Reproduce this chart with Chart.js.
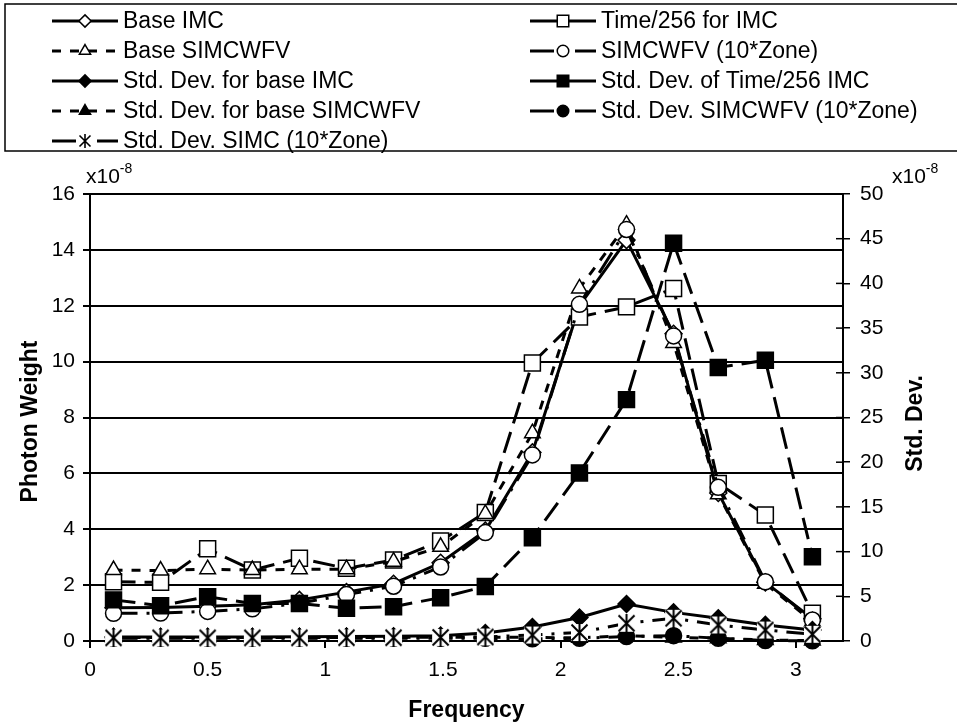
<!DOCTYPE html>
<html>
<head>
<meta charset="utf-8">
<script src="https://cdn.jsdelivr.net/npm/chart.js@4"></script>
<style>
  body { margin: 0; background: #fff; }
  #wrap { width: 957px; height: 726px; }
</style>
</head>
<body>
<div id="wrap"><canvas id="photonChart"></canvas></div>
<script>
// ===== data (photon weight in x10^-8, std. dev. in x10^-8) =====
const frequency = [0.1, 0.3, 0.5, 0.69, 0.89, 1.09, 1.29, 1.49, 1.68, 1.88, 2.08, 2.28, 2.48, 2.67, 2.87, 3.07];

const baseIMC       = [1.19, 1.2, 1.24, 1.3, 1.47, 1.75, 2.05, 2.8, 3.95, 6.75, 12.0, 14.35, 11.0, 5.3, 2.1, 0.8];
const time256IMC    = [2.12, 2.1, 3.3, 2.54, 2.96, 2.6, 2.9, 3.58, 4.6, 9.95, 11.6, 11.96, 12.62, 5.64, 4.51, 0.99];
const baseSIMCWFV   = [2.54, 2.52, 2.57, 2.54, 2.57, 2.57, 2.84, 3.37, 4.55, 7.44, 12.62, 14.9, 10.67, 5.25, 2.05, 0.7];
const simcwfvZone   = [0.99, 1.0, 1.06, 1.15, 1.35, 1.66, 1.96, 2.65, 3.88, 6.66, 12.05, 14.73, 10.92, 5.5, 2.12, 0.75];

const sdBaseIMC     = [0.45, 0.45, 0.45, 0.45, 0.47, 0.5, 0.52, 0.6, 0.9, 1.57, 2.63, 4.14, 3.2, 2.55, 1.8, 1.23];
const sdTime256IMC  = [4.6, 3.95, 4.96, 4.2, 4.2, 3.66, 3.84, 4.85, 6.1, 11.55, 18.8, 27.0, 44.5, 30.6, 31.4, 9.43];
const sdBaseSIMCWFV = [0.4, 0.4, 0.4, 0.4, 0.4, 0.4, 0.4, 0.42, 0.42, 0.4, 0.35, 0.6, 0.4, 0.3, 0.1, 0.05];
const sdSIMCWFVZone = [0.3, 0.3, 0.3, 0.3, 0.3, 0.3, 0.3, 0.3, 0.3, 0.25, 0.3, 0.5, 0.6, 0.3, 0.05, 0.03];
const sdSIMCZone    = [0.35, 0.35, 0.35, 0.35, 0.35, 0.37, 0.37, 0.4, 0.45, 0.67, 0.95, 1.98, 2.54, 1.79, 1.23, 0.75];

const xTicks = [0, 0.5, 1, 1.5, 2, 2.5, 3];
const leftTicks = [0, 2, 4, 6, 8, 10, 12, 14, 16];
const rightTicks = [0, 5, 10, 15, 20, 25, 30, 35, 40, 45, 50];

const FONT = 'Arial, "Liberation Sans", sans-serif';
const LONG_DASH = [22, 9];
const SHORT_DASH = [9, 9];
const DASH_DOT = [24, 9, 3, 9];

// star marker (x with vertical bar, white box behind)
function starMarker(size, lw) {
  const c = document.createElement('canvas');
  c.width = size; c.height = size;
  const g = c.getContext('2d');
  const m = size / 2, r = size / 2 - 1.5;
  g.fillStyle = '#fff';
  g.fillRect(1, 1, size - 2, size - 2);
  g.strokeStyle = '#000';
  g.lineWidth = lw;
  g.beginPath();
  g.moveTo(m - r, m - r); g.lineTo(m + r, m + r);
  g.moveTo(m + r, m - r); g.lineTo(m - r, m + r);
  g.moveTo(m, 0); g.lineTo(m, size);
  g.stroke();
  return c;
}
const starBig = starMarker(19, 2);
const starSmall = starMarker(14, 1.6);

function series(label, values, axis, marker, fill, radius, dash) {
  return {
    label: label,
    yAxisID: axis,
    data: values.map((v, i) => ({ x: frequency[i], y: v })),
    showLine: true,
    tension: 0,
    fill: false,
    clip: false,
    borderColor: '#000',
    borderWidth: 3,
    borderDash: dash,
    pointStyle: marker,
    pointRadius: radius,
    pointBackgroundColor: fill,
    pointBorderColor: '#000',
    pointBorderWidth: 1.5,
    legendMarker: marker === starBig ? starSmall : marker
  };
}

const datasets = [
  series('Base IMC', baseIMC, 'y', 'rectRot', '#fff', 8.5, []),
  series('Time/256 for IMC', time256IMC, 'y', 'rect', '#fff', 11.3, LONG_DASH),
  series('Base SIMCWFV', baseSIMCWFV, 'y', 'triangle', '#fff', 9, SHORT_DASH),
  series('SIMCWFV (10*Zone)', simcwfvZone, 'y', 'circle', '#fff', 8, DASH_DOT),
  series('Std. Dev. for base IMC', sdBaseIMC, 'y1', 'rectRot', '#000', 8.5, []),
  series('Std. Dev. of Time/256 IMC', sdTime256IMC, 'y1', 'rect', '#000', 11.3, LONG_DASH),
  series('Std. Dev. for base SIMCWFV', sdBaseSIMCWFV, 'y1', 'triangle', '#000', 9, SHORT_DASH),
  series('Std. Dev. SIMCWFV (10*Zone)', sdSIMCWFVZone, 'y1', 'circle', '#000', 8, DASH_DOT),
  series('Std. Dev. SIMC (10*Zone)', sdSIMCZone, 'y1', starBig, '#fff', 9, DASH_DOT)
];
// later series sit on top
datasets.forEach((d, i) => { d.order = datasets.length - i; });

function drawMarker(ctx, style, x, y, r, fill) {
  ctx.save();
  ctx.setLineDash([]);
  if (style instanceof HTMLCanvasElement) {
    ctx.drawImage(style, x - style.width / 2, y - style.height / 2);
    ctx.restore();
    return;
  }
  ctx.fillStyle = fill;
  ctx.strokeStyle = '#000';
  ctx.lineWidth = 1.5;
  ctx.beginPath();
  if (style === 'circle') {
    ctx.arc(x, y, r, 0, Math.PI * 2);
  } else if (style === 'rect') {
    const h = r * Math.SQRT1_2;
    ctx.rect(x - h, y - h, 2 * h, 2 * h);
  } else if (style === 'rectRot') {
    ctx.moveTo(x, y - r); ctx.lineTo(x + r, y); ctx.lineTo(x, y + r); ctx.lineTo(x - r, y);
  } else if (style === 'triangle') {
    ctx.moveTo(x, y - r);
    ctx.lineTo(x + 0.866 * r, y + 0.5 * r);
    ctx.lineTo(x - 0.866 * r, y + 0.5 * r);
  }
  ctx.closePath();
  ctx.fill();
  ctx.stroke();
  ctx.restore();
}

function drawExponent(ctx, x, y) {
  ctx.textAlign = 'left';
  ctx.textBaseline = 'alphabetic';
  ctx.font = '21px ' + FONT;
  ctx.fillText('x10', x, y);
  const w = ctx.measureText('x10').width;
  ctx.font = '14px ' + FONT;
  ctx.fillText('-8', x + w, y - 10);
}

const extras = {
  id: 'extras',
  afterDraw(chart) {
    const ctx = chart.ctx;
    const a = chart.chartArea;
    ctx.save();
    ctx.fillStyle = '#000';

    // axis titles
    ctx.font = 'bold 23px ' + FONT;
    ctx.textAlign = 'center';
    ctx.textBaseline = 'middle';
    ctx.fillText('Frequency', (a.left + a.right) / 2, 711);
    ctx.save();
    ctx.translate(31, (a.top + a.bottom) / 2 + 4);
    ctx.rotate(-Math.PI / 2);
    ctx.fillText('Photon Weight', 0, 0);
    ctx.restore();
    ctx.save();
    ctx.translate(916, (a.top + a.bottom) / 2 + 6);
    ctx.rotate(-Math.PI / 2);
    ctx.fillText('Std. Dev.', 0, 0);
    ctx.restore();

    // scale multipliers
    drawExponent(ctx, 86, 183);
    drawExponent(ctx, 892, 183);

    // right axis ticks cross the axis line
    const r = chart.scales.y1;
    ctx.strokeStyle = '#000';
    ctx.lineWidth = 1.5;
    rightTicks.forEach(v => {
      const y = r.getPixelForValue(v);
      ctx.beginPath();
      ctx.moveTo(a.right - 7, y);
      ctx.lineTo(a.right, y);
      ctx.stroke();
    });

    // legend
    ctx.lineWidth = 1.5;
    ctx.strokeRect(5, 4, 960, 147);
    ctx.font = '23px ' + FONT;
    ctx.textAlign = 'left';
    ctx.textBaseline = 'middle';
    chart.data.datasets.forEach((d, i) => {
      const x0 = i % 2 ? 530 : 52;
      const y = 21 + 30 * Math.floor(i / 2);
      ctx.save();
      ctx.strokeStyle = '#000';
      ctx.lineWidth = 3;
      ctx.setLineDash(d.borderDash === LONG_DASH ? [] : d.borderDash);
      ctx.beginPath();
      ctx.moveTo(x0, y);
      ctx.lineTo(x0 + 66, y);
      ctx.stroke();
      ctx.restore();
      drawMarker(ctx, d.legendMarker, x0 + 33, y, d.pointRadius * 0.72, d.pointBackgroundColor);
      ctx.fillStyle = '#000';
      ctx.fillText(d.label, x0 + 71, y + 1);
    });
    ctx.restore();
  }
};

const tickFont = { family: FONT, size: 21 };

new Chart(document.getElementById('photonChart'), {
  type: 'scatter',
  data: { datasets: datasets },
  options: {
    responsive: true,
    maintainAspectRatio: false,
    animation: false,
    layout: { padding: { top: 194, left: 0, right: 0, bottom: 0 } },
    plugins: { legend: { display: false }, tooltip: { enabled: false } },
    scales: {
      x: {
        type: 'linear',
        min: 0,
        max: 3.2,
        afterBuildTicks: s => { s.ticks = xTicks.map(v => ({ value: v })); },
        afterFit: s => { s.height = 85; },
        grid: {
          drawOnChartArea: false,
          tickLength: 7,
          lineWidth: 2,
          tickColor: c => (c.tick && Number.isInteger(c.tick.value)) ? '#000' : 'rgba(0,0,0,0)'
        },
        border: { color: '#000', width: 2 },
        ticks: {
          color: '#000', font: tickFont, padding: 10, maxRotation: 0, autoSkip: false,
          callback: v => String(v)
        }
      },
      y: {
        position: 'left',
        min: 0,
        max: 16,
        afterBuildTicks: s => { s.ticks = leftTicks.map(v => ({ value: v })); },
        afterFit: s => { s.width = 90; },
        grid: { color: '#000', lineWidth: 2, tickLength: 7 },
        border: { color: '#000', width: 2 },
        ticks: { color: '#000', font: tickFont, padding: 8 }
      },
      y1: {
        position: 'right',
        min: 0,
        max: 50,
        afterBuildTicks: s => { s.ticks = rightTicks.map(v => ({ value: v })); },
        afterFit: s => { s.width = 114; },
        grid: { drawOnChartArea: false, color: '#000', lineWidth: 1.5, tickLength: 7 },
        border: { color: '#000', width: 2 },
        ticks: { color: '#000', font: tickFont, padding: 10 }
      }
    }
  },
  plugins: [extras]
});
</script>
</body>
</html>
